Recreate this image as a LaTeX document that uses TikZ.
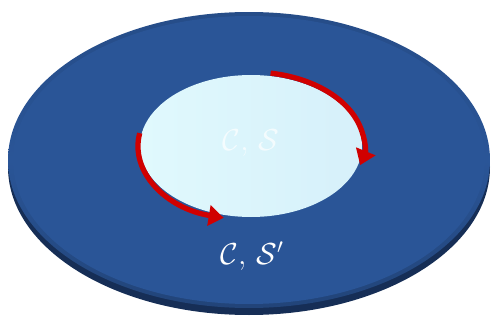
\documentclass[tikz,border=0pt]{standalone}
\usepackage{amsmath,amssymb}
\usepackage{tikz}
\usetikzlibrary{calc, arrows.meta}
\definecolor{discblue}{RGB}{42,85,151}
\definecolor{discrim}{RGB}{22,46,86}
\definecolor{holecyan}{RGB}{224,249,253}
\definecolor{holeshade}{RGB}{214,240,250}
\definecolor{flowred}{RGB}{208,0,0}
\tikzset{
    flow/.style={flowred, line width=3pt,
        -{Triangle[length=8.5pt, width=11.5pt]}},
    disclabel/.style={text=white, font=\fontsize{17}{20}\selectfont}
}

\begin{document}
\begin{tikzpicture}[x=0.02cm, y=0.02cm]
    \useasboundingbox (0,0) rectangle (491,322);
    \coordinate (rim) at (249,155);
    \coordinate (disc) at (249,162);
    \coordinate (hole) at (251,176);
    % disc with its thick edge
    \fill[discrim] (rim) ellipse[x radius=241, y radius=148];
    \shade[top color=discblue!90!black, bottom color=discblue!80!black, middle color=discblue]
        (disc) ellipse[x radius=241, y radius=148];
    \fill[discblue] (disc) ellipse[x radius=236, y radius=144];
    \shade[left color=holecyan, right color=holeshade]
        (hole) ellipse[x radius=111, y radius=71];
    % the two arrows along the hole
    \coordinate (flowA) at ($(hole)+(80:113 and 74)$);
    \coordinate (flowB) at ($(hole)+(170:113 and 74)$);
    \draw[flow] (flowA) arc[start angle=80, end angle=-15, x radius=113, y radius=74];
    \draw[flow] (flowB) arc[start angle=170, end angle=256, x radius=113, y radius=74];
    \node[disclabel, opacity=0.7] (inlabel) at (251,179) {$\mathcal{C},\,\mathcal{S}$};
    \node[disclabel] (outlabel) at (252,66) {$\mathcal{C},\,\mathcal{S}'$};
\end{tikzpicture}
\end{document}
